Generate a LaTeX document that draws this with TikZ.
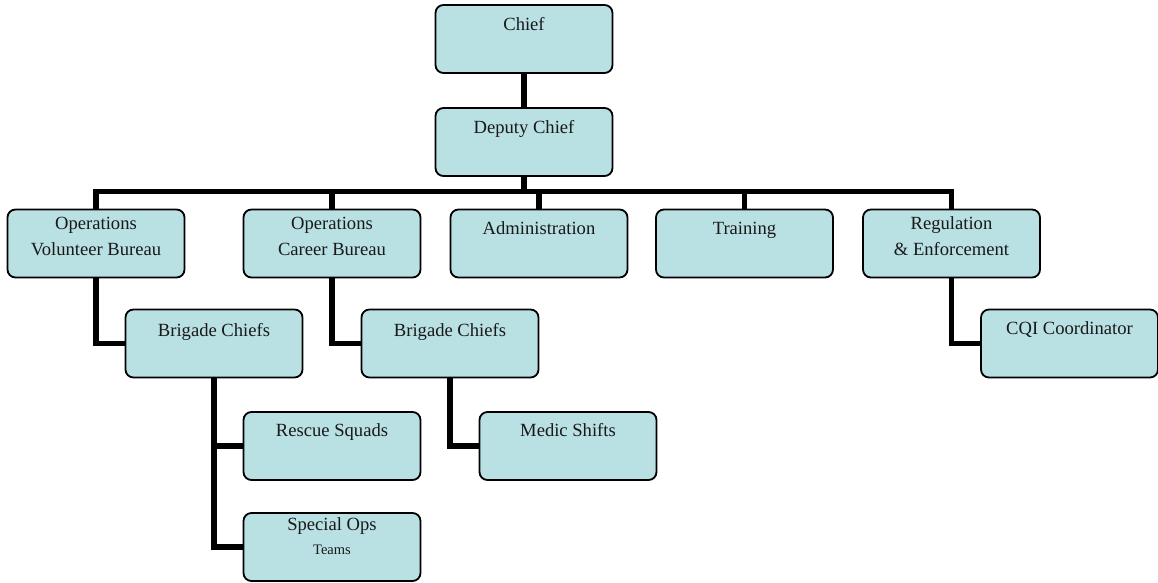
\documentclass[tikz,border=0pt]{standalone}
\usepackage{fontspec}
\setmainfont{Liberation Serif}
\newfontfamily\tnr{Liberation Serif}
\usetikzlibrary{backgrounds}
\definecolor{boxfill}{RGB}{185,224,227}
\tikzset{
  box/.style={draw=black, line width=1.8pt, fill=boxfill, rounded corners=8pt,
    minimum width=177pt, minimum height=68pt, inner sep=0pt, outer sep=0pt},
  txt/.style={anchor=base, inner sep=0pt, font=\tnr\fontsize{18.6}{22}\selectfont, text=black!90},
  smalltxt/.style={anchor=base, inner sep=0pt, font=\tnr\fontsize{14.5}{17}\selectfont, text=black!90},
  conn/.style={draw=black, line width=5.5pt, line join=miter, line cap=butt}
}
\begin{document}
\begin{tikzpicture}[x=1pt,y=-1pt]
\useasboundingbox (0,0) rectangle (1158,582);
% boxes
\node[box] (chief) at (524,39) {};
\node[box] (deputy) at (524,142) {};
\node[box] (opv) at (96,243.5) {};
\node[box] (opc) at (332,243.5) {};
\node[box] (adm) at (539,243.5) {};
\node[box] (trn) at (744.5,243.5) {};
\node[box] (reg) at (951.5,243.5) {};
\node[box] (bc1) at (214,343.5) {};
\node[box] (bc2) at (450,343.5) {};
\node[box] (cqi) at (1069.5,343.5) {};
\node[box] (rs) at (332,446) {};
\node[box] (so) at (332,547) {};
\node[box] (ms) at (568,446) {};
% texts
\node[txt] (chiefT) at ([yshift=-25pt]chief.north) {Chief};
\node[txt] (deputyT) at ([yshift=-25pt]deputy.north) {Deputy Chief};
\node[txt] (opvT1) at ([yshift=-20pt]opv.north) {Operations};
\node[txt] (opvT2) at ([yshift=-46pt]opv.north) {Volunteer Bureau};
\node[txt] (opcT1) at ([yshift=-20pt]opc.north) {Operations};
\node[txt] (opcT2) at ([yshift=-46pt]opc.north) {Career Bureau};
\node[txt] (admT) at ([yshift=-25pt]adm.north) {Administration};
\node[txt] (trnT) at ([yshift=-25pt]trn.north) {Training};
\node[txt] (regT1) at ([yshift=-20pt]reg.north) {Regulation};
\node[txt] (regT2) at ([yshift=-46pt]reg.north) {\& Enforcement};
\node[txt] (bc1T) at ([yshift=-27pt]bc1.north) {Brigade Chiefs};
\node[txt] (bc2T) at ([yshift=-27pt]bc2.north) {Brigade Chiefs};
\node[txt] (cqiT) at ([yshift=-25pt]cqi.north) {CQI Coordinator};
\node[txt] (rsT) at ([yshift=-24pt]rs.north) {Rescue Squads};
\node[txt] (msT) at ([yshift=-24pt]ms.north) {Medic Shifts};
\node[txt] (soT1) at ([yshift=-17pt]so.north) {Special Ops};
\node[smalltxt] (soT2) at ([yshift=-41pt]so.north) {Teams};
% connectors
\begin{scope}[on background layer]
\coordinate (bus) at (524,191.5);
\draw[conn] (chief.south) -- (deputy.north);
\draw[conn] (deputy.south) -- (bus);
\draw[conn] (opv.north) |- (bus) -| (reg.north);
\draw[conn] (opc.north) -- (opc.north |- bus);
\draw[conn] (adm.north) -- (adm.north |- bus);
\draw[conn] (trn.north) -- (trn.north |- bus);
\draw[conn] (opv.south) |- (bc1.west);
\draw[conn] (opc.south) |- (bc2.west);
\draw[conn] (reg.south) |- (cqi.west);
\draw[conn] (bc1.south) |- (rs.west);
\draw[conn] (bc1.south) |- (so.west);
\draw[conn] (bc2.south) |- (ms.west);
\end{scope}
\end{tikzpicture}
\end{document}
